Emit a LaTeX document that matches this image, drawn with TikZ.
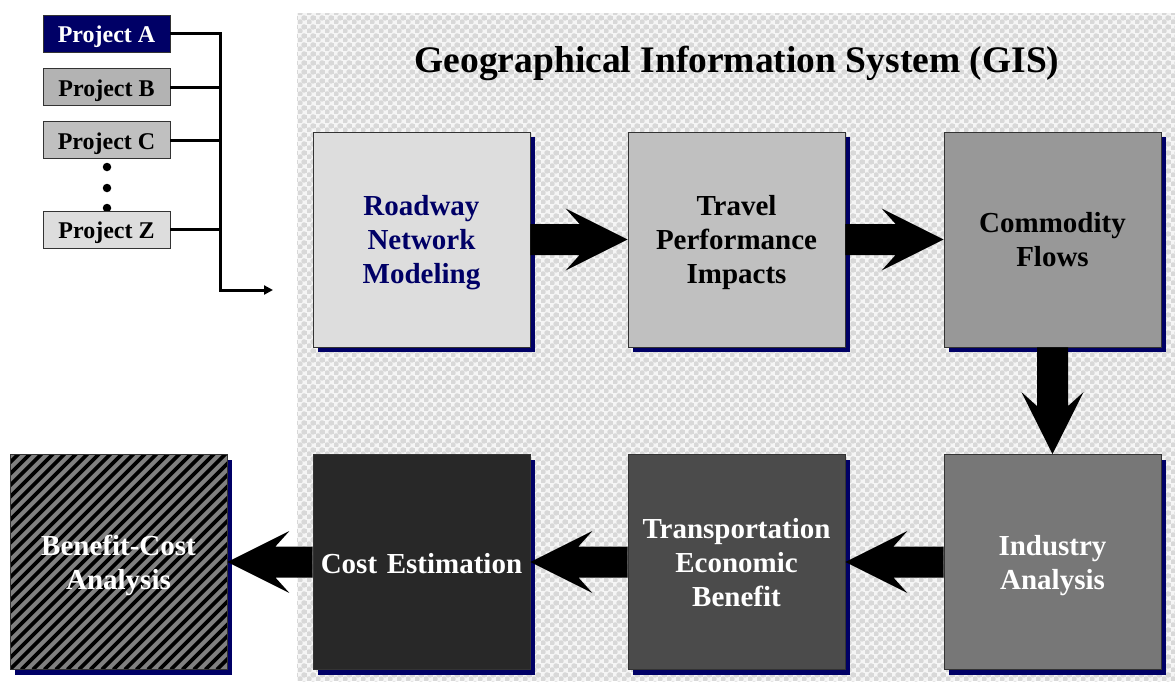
\documentclass[tikz,border=0pt]{standalone}
\usepackage{fontspec}
\setmainfont{Liberation Serif}
\usetikzlibrary{calc,arrows.meta,patterns.meta,shadows}

\definecolor{navy}{HTML}{000066}
\definecolor{panelbg}{HTML}{F5F5F5}
\definecolor{bubble}{HTML}{D8D8D8}
\definecolor{fillA}{HTML}{DDDDDD}
\definecolor{fillB}{HTML}{C0C0C0}
\definecolor{fillC}{HTML}{989898}
\definecolor{fillD}{HTML}{777777}
\definecolor{fillE}{HTML}{4B4B4B}
\definecolor{fillF}{HTML}{282828}
\definecolor{projB}{HTML}{B3B3B3}
\definecolor{hatchgray}{HTML}{808080}

% bubble texture of the GIS panel
\pgfdeclarepattern{
  name=bubbles,
  type=colored,
  bottom left={\pgfpoint{0pt}{0pt}},
  top right={\pgfpoint{8.5pt}{8.5pt}},
  tile size={\pgfpoint{8.5pt}{8.5pt}},
  code={
    \pgfsetfillcolor{bubble}
    \pgfpathcircle{\pgfpoint{2.125pt}{2.125pt}}{2.9pt}
    \pgfpathcircle{\pgfpoint{6.375pt}{6.375pt}}{2.9pt}
    \pgfusepath{fill}
  }
}

\tikzset{
  stage/.style={draw=black!80, line width=0.8pt, minimum width=217pt,
    minimum height=215pt, inner sep=0pt,
    drop shadow={shadow xshift=5pt, shadow yshift=-5pt, fill=navy, opacity=1}},
  stagetext/.style={align=center, text width=212pt, inner sep=0pt,
    yshift=-3.5pt, font=\bfseries\fontsize{29}{34}\selectfont},
  proj/.style={draw=black!80, line width=0.8pt, minimum width=127pt,
    minimum height=37pt, inner sep=0pt, text depth=0pt, text height=18pt,
    font=\bfseries\fontsize{24}{28}\selectfont},
  conn/.style={line width=3pt, line join=miter},
  dot/.style={circle, fill=black, inner sep=0pt, minimum size=8.5pt},
  hatched/.style={path picture={
    \foreach \i in {-22,...,22}
      \draw[black, line width=3.8pt]
        ($(path picture bounding box.south west)+(\i*11.5,0)$) -- ++(240,-240);
  }},
  blockfill/.style={fill=black},
}

% block arrow from tail anchor #1 to tip anchor #2, direction (#3,#4)
\newcommand\blockarrow[4]{%
  \fill[blockfill]
    ($(#1)+({-15.5*(#4)},{15.5*(#3)})$)
    -- ($(#2)+({-48*(#3)-15.5*(#4)},{-48*(#4)+15.5*(#3)})$)
    -- ($(#2)+({-62*(#3)-31*(#4)},{-62*(#4)+31*(#3)})$)
    -- (#2)
    -- ($(#2)+({-62*(#3)+31*(#4)},{-62*(#4)-31*(#3)})$)
    -- ($(#2)+({-48*(#3)+15.5*(#4)},{-48*(#4)-15.5*(#3)})$)
    -- ($(#1)+({15.5*(#4)},{-15.5*(#3)})$)
    -- cycle;}

\begin{document}
\begin{tikzpicture}[x=1pt, y=-1pt]
  \useasboundingbox (0,0) rectangle (1175,681);
  \fill[white] (0,0) rectangle (1175,681);

  % GIS panel
  \fill[panelbg] (297,13) rectangle (1175,681);
  \fill[pattern=bubbles] (297,13) rectangle (1175,681);
  \node[font=\bfseries\fontsize{37.5}{42}\selectfont] (title) at (737,63)
    {Geographical Information System (GIS)};

  % project list
  \node[proj, fill=navy, text=white] (pa) at (106.5,33.5) {Project A};
  \node[proj, fill=projB] (pb) at (106.5,87) {Project B};
  \node[proj, fill=fillB] (pc) at (106.5,140) {Project C};
  \node[dot] (d1) at (107,167) {};
  \node[dot] (d2) at (107,188) {};
  \node[dot] (d3) at (107,208) {};
  \node[proj, fill=fillA] (pz) at (106.5,229.5) {Project Z};

  \coordinate (bus) at (220,290);
  \coordinate (entry) at (273,290);
  \draw[conn, -{Triangle[length=9pt,width=9pt]}] (pa.east) -| (bus) -- (entry);
  \draw[conn] (pb.east) -- (pb.east -| bus);
  \draw[conn] (pc.east) -- (pc.east -| bus);
  \draw[conn] (pz.east) -- (pz.east -| bus);

  % analysis stages
  \node[stage, fill=fillA,
    label={[stagetext, text=navy]center:{Roadway\\Network\\Modeling}}]
    (road) at (421.5,239.5) {};
  \node[stage, fill=fillB,
    label={[stagetext]center:{Travel\\Performance\\Impacts}}]
    (travel) at (736.5,239.5) {};
  \node[stage, fill=fillC,
    label={[stagetext, yshift=3pt]center:{Commodity\\Flows}}]
    (comm) at (1052.5,239.5) {};
  \node[stage, fill=fillD,
    label={[stagetext, text=white]center:{Industry\\Analysis}}]
    (ind) at (1052.5,562) {};
  \node[stage, fill=fillE,
    label={[stagetext, text=white, yshift=2.5pt]center:{Transportation\\Economic\\Benefit}}]
    (teb) at (736.5,562) {};
  \node[stage, fill=fillF,
    label={[stagetext, text=white, yshift=1.5pt]center:{Cost Estimation}}]
    (cost) at (421.5,562) {};
  \node[stage, fill=hatchgray, hatched,
    label={[stagetext, text=white]center:{Benefit-Cost\\Analysis}}]
    (bca) at (118.5,562) {};

  % flow arrows
  \blockarrow{road.east}{travel.west}{1}{0}
  \blockarrow{travel.east}{comm.west}{1}{0}
  \blockarrow{comm.south}{ind.north}{0}{1}
  \blockarrow{ind.west}{teb.east}{-1}{0}
  \blockarrow{teb.west}{cost.east}{-1}{0}
  \blockarrow{cost.west}{bca.east}{-1}{0}
\end{tikzpicture}
\end{document}
